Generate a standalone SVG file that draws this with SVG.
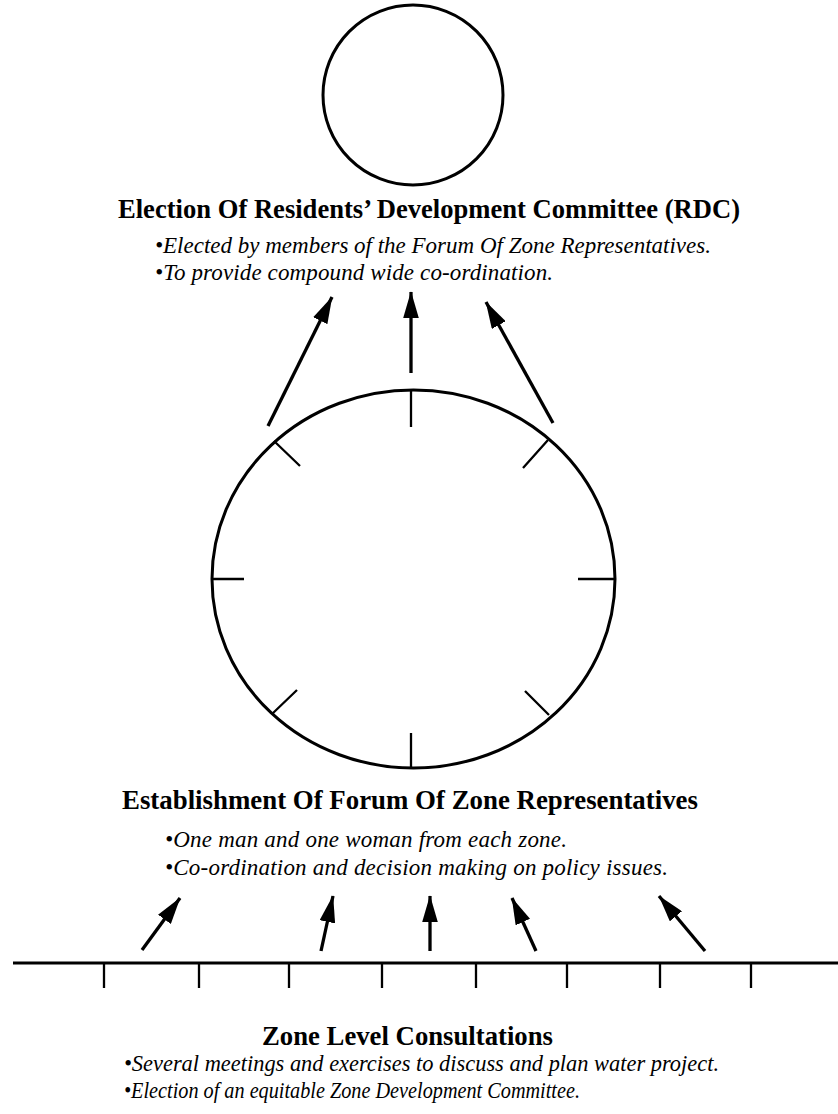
<svg xmlns="http://www.w3.org/2000/svg" width="838" height="1114" viewBox="0 0 838 1114">
<style>
.ln{stroke:#000;stroke-width:2.3;fill:none}
.sh{stroke:#000;stroke-width:3;fill:none}
.t{font-family:"Liberation Serif","Times New Roman",serif;font-weight:bold;font-size:27px;fill:#000}
.b{font-family:"Liberation Serif","Times New Roman",serif;font-style:italic;font-size:23px;fill:#000}
</style>
<defs>
<marker id="ah" markerWidth="8.2" markerHeight="4.8" refX="8" refY="2.4" orient="auto" markerUnits="strokeWidth">
<path d="M0,0 L8.2,2.4 L0,4.8 Z" fill="#000"/>
</marker>
</defs>
<rect width="838" height="1114" fill="#fff"/>
<g id="rdc">
<circle class="sh" cx="413" cy="95" r="90"/>
<text class="t" x="118" y="218" textLength="622" lengthAdjust="spacingAndGlyphs">Election Of Residents’ Development Committee (RDC)</text>
<text class="b" x="155" y="253" textLength="556" lengthAdjust="spacing">•Elected by members of the Forum Of Zone Representatives.</text>
<text class="b" x="155" y="280" textLength="398" lengthAdjust="spacing">•To provide compound wide co-ordination.</text>
</g>
<g id="forum">
<ellipse class="sh" cx="413.5" cy="579" rx="201.5" ry="189"/>
<path class="ln" d="M411,390 V427 M411,768 V733 M212,579 H244 M615,579 H578 M274,441 L300,466 M548,440 L523,468 M272,714 L297,690 M549,715 L525,691"/>
<text class="t" x="122" y="809" textLength="576" lengthAdjust="spacingAndGlyphs">Establishment Of Forum Of Zone Representatives</text>
<text class="b" x="165" y="847" textLength="402" lengthAdjust="spacing">•One man and one woman from each zone.</text>
<text class="b" x="165" y="875" textLength="503" lengthAdjust="spacing">•Co-ordination and decision making on policy issues.</text>
</g>
<g id="zones">
<path class="sh" d="M13,963 H838"/>
<path class="ln" d="M104,963 V988 M199,963 V988 M289,963 V988 M382,963 V988 M476,963 V988 M567,963 V988 M660,963 V988 M751,963 V988"/>
<text class="t" x="262" y="1045" textLength="291" lengthAdjust="spacingAndGlyphs">Zone Level Consultations</text>
<text class="b" x="124" y="1071" textLength="595" lengthAdjust="spacingAndGlyphs">•Several meetings and exercises to discuss and plan water project.</text>
<text class="b" x="124" y="1098" textLength="456" lengthAdjust="spacingAndGlyphs">•Election of an equitable Zone Development Committee.</text>
</g>
<g id="connectors" stroke="#000" stroke-width="3.3" fill="none">
<line x1="268" y1="426" x2="332" y2="297" marker-end="url(#ah)"/>
<line x1="411" y1="373" x2="411" y2="292" marker-end="url(#ah)"/>
<line x1="553" y1="423" x2="486" y2="302" marker-end="url(#ah)"/>
<line x1="142" y1="950" x2="180" y2="898" marker-end="url(#ah)"/>
<line x1="321" y1="951" x2="333" y2="896" marker-end="url(#ah)"/>
<line x1="430" y1="951" x2="430" y2="896" marker-end="url(#ah)"/>
<line x1="536" y1="951" x2="512" y2="898" marker-end="url(#ah)"/>
<line x1="705" y1="951" x2="659" y2="896" marker-end="url(#ah)"/>
</g>
</svg>
